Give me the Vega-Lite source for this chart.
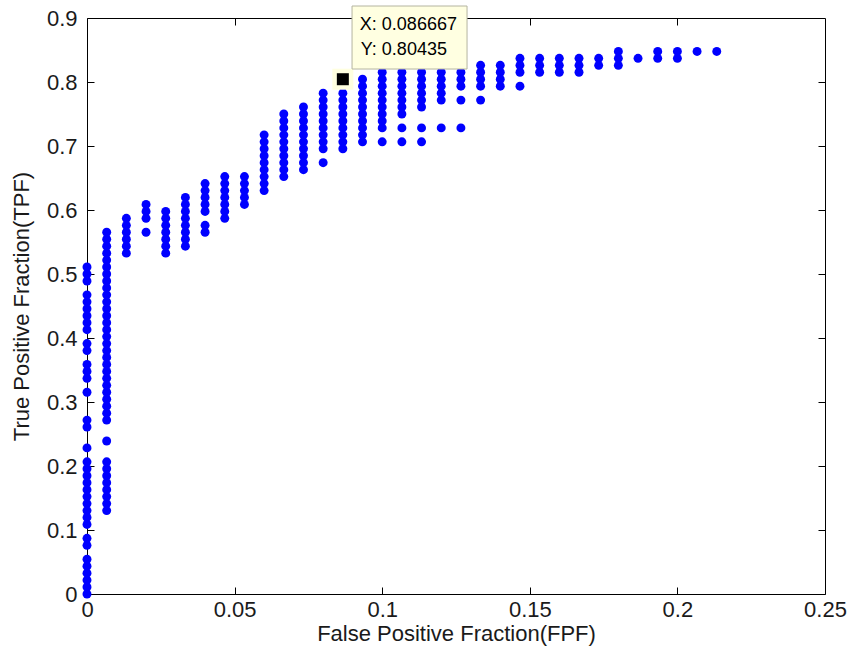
{
  "$schema": "https://vega.github.io/schema/vega-lite/v6.json",
  "autosize": "none",
  "width": 738,
  "height": 576,
  "padding": {"left": 87, "top": 18, "right": 28, "bottom": 62},
  "background": "white",
  "config": {
    "view": {"stroke": "#000000", "strokeWidth": 1},
    "axis": {
      "grid": false, "domain": false, "tickSize": -7, "tickColor": "#000000", "tickWidth": 1,
      "labelFont": "Liberation Sans", "labelFontSize": 22, "labelColor": "#1a1a1a",
      "labelFlush": false, "labelOverlap": false,
      "titleFont": "Liberation Sans", "titleFontSize": 22, "titleFontWeight": "normal", "titleColor": "#1a1a1a"
    }
  },
  "datasets": {
    "roc": [
      {"fpf":0,"tpf":0},{"fpf":0,"tpf":0.0109},{"fpf":0,"tpf":0.0217},{"fpf":0,"tpf":0.0326},{"fpf":0,"tpf":0.0435},{"fpf":0,"tpf":0.0543},{"fpf":0,"tpf":0.0761},{"fpf":0,"tpf":0.0870},{"fpf":0,"tpf":0.1087},{"fpf":0,"tpf":0.1196},{"fpf":0,"tpf":0.1304},{"fpf":0,"tpf":0.1413},{"fpf":0,"tpf":0.1522},{"fpf":0,"tpf":0.1630},{"fpf":0,"tpf":0.1739},{"fpf":0,"tpf":0.1848},{"fpf":0,"tpf":0.1957},{"fpf":0,"tpf":0.2065},{"fpf":0,"tpf":0.2283},{"fpf":0,"tpf":0.2609},{"fpf":0,"tpf":0.2717},{"fpf":0,"tpf":0.3152},{"fpf":0,"tpf":0.3370},{"fpf":0,"tpf":0.3478},{"fpf":0,"tpf":0.3587},{"fpf":0,"tpf":0.3804},{"fpf":0,"tpf":0.3913},{"fpf":0,"tpf":0.4130},{"fpf":0,"tpf":0.4239},{"fpf":0,"tpf":0.4348},{"fpf":0,"tpf":0.4457},{"fpf":0,"tpf":0.4565},{"fpf":0,"tpf":0.4674},{"fpf":0,"tpf":0.4891},{"fpf":0,"tpf":0.5000},{"fpf":0,"tpf":0.5109},
      {"fpf":0.006667,"tpf":0.1304},{"fpf":0.006667,"tpf":0.1413},{"fpf":0.006667,"tpf":0.1522},{"fpf":0.006667,"tpf":0.1630},{"fpf":0.006667,"tpf":0.1739},{"fpf":0.006667,"tpf":0.1848},{"fpf":0.006667,"tpf":0.1957},{"fpf":0.006667,"tpf":0.2065},{"fpf":0.006667,"tpf":0.2391},{"fpf":0.006667,"tpf":0.2717},{"fpf":0.006667,"tpf":0.2826},{"fpf":0.006667,"tpf":0.2935},{"fpf":0.006667,"tpf":0.3043},{"fpf":0.006667,"tpf":0.3152},{"fpf":0.006667,"tpf":0.3261},{"fpf":0.006667,"tpf":0.3370},{"fpf":0.006667,"tpf":0.3478},{"fpf":0.006667,"tpf":0.3587},{"fpf":0.006667,"tpf":0.3696},{"fpf":0.006667,"tpf":0.3804},{"fpf":0.006667,"tpf":0.3913},{"fpf":0.006667,"tpf":0.4022},{"fpf":0.006667,"tpf":0.4130},{"fpf":0.006667,"tpf":0.4239},{"fpf":0.006667,"tpf":0.4348},{"fpf":0.006667,"tpf":0.4457},{"fpf":0.006667,"tpf":0.4565},{"fpf":0.006667,"tpf":0.4674},{"fpf":0.006667,"tpf":0.4783},{"fpf":0.006667,"tpf":0.4891},{"fpf":0.006667,"tpf":0.5000},{"fpf":0.006667,"tpf":0.5109},{"fpf":0.006667,"tpf":0.5217},{"fpf":0.006667,"tpf":0.5326},{"fpf":0.006667,"tpf":0.5435},{"fpf":0.006667,"tpf":0.5543},{"fpf":0.006667,"tpf":0.5652},
      {"fpf":0.013333,"tpf":0.5326},{"fpf":0.013333,"tpf":0.5435},{"fpf":0.013333,"tpf":0.5543},{"fpf":0.013333,"tpf":0.5652},{"fpf":0.013333,"tpf":0.5761},{"fpf":0.013333,"tpf":0.5870},
      {"fpf":0.02,"tpf":0.5652},{"fpf":0.02,"tpf":0.5870},{"fpf":0.02,"tpf":0.5978},{"fpf":0.02,"tpf":0.6087},
      {"fpf":0.026667,"tpf":0.5326},{"fpf":0.026667,"tpf":0.5435},{"fpf":0.026667,"tpf":0.5543},{"fpf":0.026667,"tpf":0.5652},{"fpf":0.026667,"tpf":0.5761},{"fpf":0.026667,"tpf":0.5870},{"fpf":0.026667,"tpf":0.5978},
      {"fpf":0.033333,"tpf":0.5435},{"fpf":0.033333,"tpf":0.5543},{"fpf":0.033333,"tpf":0.5652},{"fpf":0.033333,"tpf":0.5761},{"fpf":0.033333,"tpf":0.5870},{"fpf":0.033333,"tpf":0.5978},{"fpf":0.033333,"tpf":0.6087},{"fpf":0.033333,"tpf":0.6196},
      {"fpf":0.04,"tpf":0.5652},{"fpf":0.04,"tpf":0.5761},{"fpf":0.04,"tpf":0.5978},{"fpf":0.04,"tpf":0.6087},{"fpf":0.04,"tpf":0.6196},{"fpf":0.04,"tpf":0.6304},{"fpf":0.04,"tpf":0.6413},
      {"fpf":0.046667,"tpf":0.5870},{"fpf":0.046667,"tpf":0.5978},{"fpf":0.046667,"tpf":0.6087},{"fpf":0.046667,"tpf":0.6196},{"fpf":0.046667,"tpf":0.6304},{"fpf":0.046667,"tpf":0.6413},{"fpf":0.046667,"tpf":0.6522},
      {"fpf":0.053333,"tpf":0.6087},{"fpf":0.053333,"tpf":0.6196},{"fpf":0.053333,"tpf":0.6304},{"fpf":0.053333,"tpf":0.6413},{"fpf":0.053333,"tpf":0.6522},
      {"fpf":0.06,"tpf":0.6304},{"fpf":0.06,"tpf":0.6413},{"fpf":0.06,"tpf":0.6522},{"fpf":0.06,"tpf":0.6630},{"fpf":0.06,"tpf":0.6739},{"fpf":0.06,"tpf":0.6848},{"fpf":0.06,"tpf":0.6957},{"fpf":0.06,"tpf":0.7065},{"fpf":0.06,"tpf":0.7174},
      {"fpf":0.066667,"tpf":0.6522},{"fpf":0.066667,"tpf":0.6630},{"fpf":0.066667,"tpf":0.6739},{"fpf":0.066667,"tpf":0.6848},{"fpf":0.066667,"tpf":0.6957},{"fpf":0.066667,"tpf":0.7065},{"fpf":0.066667,"tpf":0.7174},{"fpf":0.066667,"tpf":0.7283},{"fpf":0.066667,"tpf":0.7391},{"fpf":0.066667,"tpf":0.7500},
      {"fpf":0.073333,"tpf":0.6630},{"fpf":0.073333,"tpf":0.6739},{"fpf":0.073333,"tpf":0.6848},{"fpf":0.073333,"tpf":0.6957},{"fpf":0.073333,"tpf":0.7065},{"fpf":0.073333,"tpf":0.7174},{"fpf":0.073333,"tpf":0.7283},{"fpf":0.073333,"tpf":0.7391},{"fpf":0.073333,"tpf":0.7500},{"fpf":0.073333,"tpf":0.7609},
      {"fpf":0.08,"tpf":0.6739},{"fpf":0.08,"tpf":0.6957},{"fpf":0.08,"tpf":0.7065},{"fpf":0.08,"tpf":0.7174},{"fpf":0.08,"tpf":0.7283},{"fpf":0.08,"tpf":0.7391},{"fpf":0.08,"tpf":0.7500},{"fpf":0.08,"tpf":0.7609},{"fpf":0.08,"tpf":0.7717},{"fpf":0.08,"tpf":0.7826},
      {"fpf":0.086667,"tpf":0.6957},{"fpf":0.086667,"tpf":0.7065},{"fpf":0.086667,"tpf":0.7174},{"fpf":0.086667,"tpf":0.7283},{"fpf":0.086667,"tpf":0.7391},{"fpf":0.086667,"tpf":0.7500},{"fpf":0.086667,"tpf":0.7609},{"fpf":0.086667,"tpf":0.7717},{"fpf":0.086667,"tpf":0.7826},{"fpf":0.086667,"tpf":0.7935},{"fpf":0.086667,"tpf":0.8043},
      {"fpf":0.093333,"tpf":0.7065},{"fpf":0.093333,"tpf":0.7174},{"fpf":0.093333,"tpf":0.7283},{"fpf":0.093333,"tpf":0.7391},{"fpf":0.093333,"tpf":0.7500},{"fpf":0.093333,"tpf":0.7609},{"fpf":0.093333,"tpf":0.7717},{"fpf":0.093333,"tpf":0.7826},{"fpf":0.093333,"tpf":0.7935},{"fpf":0.093333,"tpf":0.8043},
      {"fpf":0.1,"tpf":0.7065},{"fpf":0.1,"tpf":0.7283},{"fpf":0.1,"tpf":0.7391},{"fpf":0.1,"tpf":0.7500},{"fpf":0.1,"tpf":0.7609},{"fpf":0.1,"tpf":0.7717},{"fpf":0.1,"tpf":0.7826},{"fpf":0.1,"tpf":0.7935},{"fpf":0.1,"tpf":0.8043},{"fpf":0.1,"tpf":0.8152},
      {"fpf":0.106667,"tpf":0.7065},{"fpf":0.106667,"tpf":0.7283},{"fpf":0.106667,"tpf":0.7500},{"fpf":0.106667,"tpf":0.7609},{"fpf":0.106667,"tpf":0.7717},{"fpf":0.106667,"tpf":0.7826},{"fpf":0.106667,"tpf":0.7935},{"fpf":0.106667,"tpf":0.8043},{"fpf":0.106667,"tpf":0.8152},
      {"fpf":0.113333,"tpf":0.7065},{"fpf":0.113333,"tpf":0.7283},{"fpf":0.113333,"tpf":0.7609},{"fpf":0.113333,"tpf":0.7717},{"fpf":0.113333,"tpf":0.7826},{"fpf":0.113333,"tpf":0.7935},{"fpf":0.113333,"tpf":0.8043},{"fpf":0.113333,"tpf":0.8152},
      {"fpf":0.12,"tpf":0.7283},{"fpf":0.12,"tpf":0.7717},{"fpf":0.12,"tpf":0.7826},{"fpf":0.12,"tpf":0.7935},{"fpf":0.12,"tpf":0.8043},{"fpf":0.12,"tpf":0.8152},
      {"fpf":0.126667,"tpf":0.7283},{"fpf":0.126667,"tpf":0.7717},{"fpf":0.126667,"tpf":0.7935},{"fpf":0.126667,"tpf":0.8043},{"fpf":0.126667,"tpf":0.8152},
      {"fpf":0.133333,"tpf":0.7717},{"fpf":0.133333,"tpf":0.7935},{"fpf":0.133333,"tpf":0.8043},{"fpf":0.133333,"tpf":0.8152},{"fpf":0.133333,"tpf":0.8261},
      {"fpf":0.14,"tpf":0.7935},{"fpf":0.14,"tpf":0.8043},{"fpf":0.14,"tpf":0.8152},{"fpf":0.14,"tpf":0.8261},
      {"fpf":0.146667,"tpf":0.7935},{"fpf":0.146667,"tpf":0.8152},{"fpf":0.146667,"tpf":0.8261},{"fpf":0.146667,"tpf":0.8370},
      {"fpf":0.153333,"tpf":0.8152},{"fpf":0.153333,"tpf":0.8261},{"fpf":0.153333,"tpf":0.8370},
      {"fpf":0.16,"tpf":0.8152},{"fpf":0.16,"tpf":0.8261},{"fpf":0.16,"tpf":0.8370},
      {"fpf":0.166667,"tpf":0.8152},{"fpf":0.166667,"tpf":0.8261},{"fpf":0.166667,"tpf":0.8370},
      {"fpf":0.173333,"tpf":0.8261},{"fpf":0.173333,"tpf":0.8370},
      {"fpf":0.18,"tpf":0.8261},{"fpf":0.18,"tpf":0.8370},{"fpf":0.18,"tpf":0.8478},
      {"fpf":0.186667,"tpf":0.8370},
      {"fpf":0.193333,"tpf":0.8370},{"fpf":0.193333,"tpf":0.8478},
      {"fpf":0.2,"tpf":0.8370},{"fpf":0.2,"tpf":0.8478},
      {"fpf":0.206667,"tpf":0.8478},
      {"fpf":0.213333,"tpf":0.8478}
    ],
    "tip": [{"fpf":0.086667,"tpf":0.80435,"xlabel":"X: 0.086667","ylabel":"Y: 0.80435"}]
  },
  "layer": [
    {
      "data": {"name": "roc"},
      "mark": {"type": "point", "filled": true, "shape": "circle", "size": 80, "color": "#0000ff", "opacity": 1},
      "encoding": {
        "x": {"field": "fpf", "type": "quantitative", "scale": {"domain": [0, 0.25], "nice": false, "zero": false},
              "axis": {"orient": "bottom", "values": [0, 0.05, 0.1, 0.15, 0.2, 0.25], "format": "~g", "labelPadding": 12, "title": "False Positive Fraction(FPF)", "titlePadding": 3}},
        "y": {"field": "tpf", "type": "quantitative", "scale": {"domain": [0, 0.9], "nice": false, "zero": false},
              "axis": {"orient": "left", "values": [0, 0.1, 0.2, 0.3, 0.4, 0.5, 0.6, 0.7, 0.8, 0.9], "format": "~g", "labelPadding": 17, "title": "True Positive Fraction(TPF)", "titlePadding": 13}}
      }
    },
    {
      "data": {"name": "tip"},
      "mark": {"type": "point", "opacity": 0},
      "encoding": {
        "x": {"field": "fpf", "type": "quantitative", "axis": {"orient": "top", "values": [0.05, 0.1, 0.15, 0.2], "labels": false, "title": null}},
        "y": {"field": "tpf", "type": "quantitative", "axis": {"orient": "right", "values": [0.1, 0.2, 0.3, 0.4, 0.5, 0.6, 0.7, 0.8], "labels": false, "title": null}}
      }
    },
    {
      "data": {"name": "tip"},
      "mark": {"type": "point", "shape": "square", "filled": true, "size": 441, "color": "#ffffe0", "opacity": 1},
      "encoding": {"x": {"field": "fpf", "type": "quantitative", "axis": null}, "y": {"field": "tpf", "type": "quantitative", "axis": null}}
    },
    {
      "data": {"name": "tip"},
      "mark": {"type": "point", "shape": "square", "filled": true, "size": 144, "color": "#000000", "opacity": 1},
      "encoding": {"x": {"field": "fpf", "type": "quantitative", "axis": null}, "y": {"field": "tpf", "type": "quantitative", "axis": null}}
    },
    {
      "data": {"name": "tip"},
      "mark": {"type": "point", "shape": "M-1,-0.548L1,-0.548L1,0.548L-1,0.548Z", "size": 13225, "fill": "#ffffe1", "fillOpacity": 1, "stroke": "#b4b4a0", "strokeWidth": 1, "opacity": 1, "xOffset": 66.7, "yOffset": -41.7},
      "encoding": {"x": {"field": "fpf", "type": "quantitative", "axis": null}, "y": {"field": "tpf", "type": "quantitative", "axis": null}}
    },
    {
      "data": {"name": "tip"},
      "mark": {"type": "text", "align": "left", "baseline": "alphabetic", "dx": 17, "dy": -49, "font": "Liberation Sans", "fontSize": 18, "color": "#000000"},
      "encoding": {"x": {"field": "fpf", "type": "quantitative", "axis": null}, "y": {"field": "tpf", "type": "quantitative", "axis": null}, "text": {"field": "xlabel"}}
    },
    {
      "data": {"name": "tip"},
      "mark": {"type": "text", "align": "left", "baseline": "alphabetic", "dx": 18, "dy": -24, "font": "Liberation Sans", "fontSize": 18, "color": "#000000"},
      "encoding": {"x": {"field": "fpf", "type": "quantitative", "axis": null}, "y": {"field": "tpf", "type": "quantitative", "axis": null}, "text": {"field": "ylabel"}}
    }
  ],
  "resolve": {"axis": {"x": "independent", "y": "independent"}}
}
